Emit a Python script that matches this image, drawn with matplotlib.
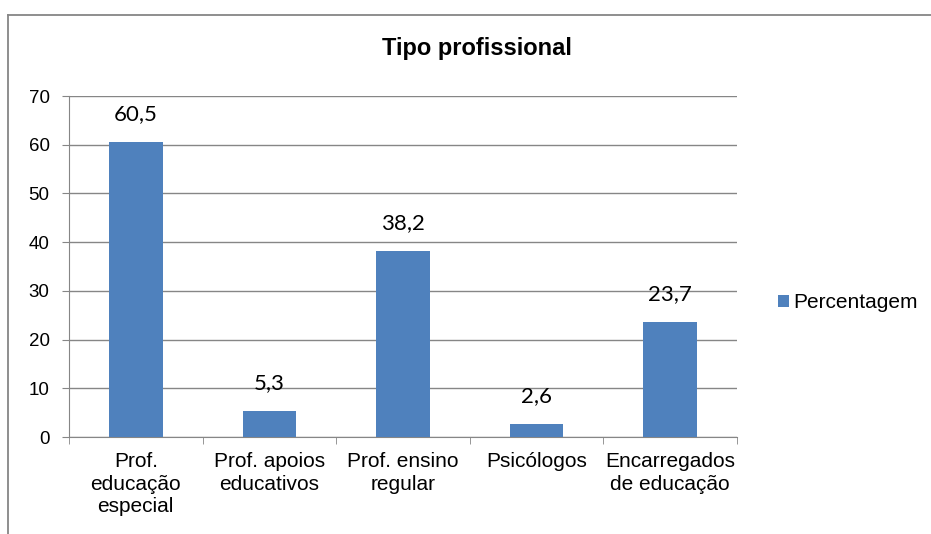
import numpy as np
import matplotlib.pyplot as plt
from matplotlib.lines import Line2D

# Dados do gráfico
categorias = ["Prof.\neducação\nespecial", "Prof. apoios\neducativos",
              "Prof. ensino\nregular", "Psicólogos", "Encarregados\nde educação"]
percentagem = [60.5, 5.3, 38.2, 2.6, 23.7]
titulo = "Tipo profissional"
legenda = "Percentagem"

cor_barra = "#4F81BD"
cor_grelha = "#868686"

plt.rcParams['font.family'] = ['Liberation Sans', 'DejaVu Sans']

fig = plt.figure(figsize=(9.31, 5.34), dpi=100)
ax = fig.add_axes([69 / 931, 1 - 437 / 534, (737 - 69) / 931, (437 - 96) / 534])

x = np.arange(len(categorias))
barras = ax.bar(x, percentagem, width=0.4, color=cor_barra, zorder=3, label=legenda)

# rótulos de dados por cima das barras
for xi, v in zip(x, percentagem):
    ax.annotate(f"{v:.1f}".replace(".", ","), (xi, v), xytext=(0, 20),
                textcoords="offset points", ha="center", va="center",
                fontsize=16, family=["Lato", "DejaVu Sans"])

ax.set_xlim(-0.5, len(categorias) - 0.5)
ax.set_ylim(0, 70)
ax.set_yticks(range(0, 71, 10))
ax.yaxis.grid(True, color=cor_grelha, linewidth=1, zorder=0)
ax.tick_params(axis="y", labelsize=13.5, length=5, color=cor_grelha, pad=9)

ax.set_xticks(x)
ax.set_xticklabels(categorias, fontsize=15, linespacing=1.22)
ax.tick_params(axis="x", which="major", length=0, pad=11)
ax.set_xticks(np.arange(-0.5, len(categorias)), minor=True)
ax.tick_params(axis="x", which="minor", length=5, color=cor_grelha)

for lado in ["top", "right"]:
    ax.spines[lado].set_visible(False)
ax.spines["left"].set_color(cor_grelha)
ax.spines["bottom"].set_color(cor_grelha)

fig.text(477 / 931, 1 - 48 / 534, titulo, ha="center", va="center",
         fontsize=17, fontweight="bold")

ax.legend(handles=[barras], loc="center left",
          bbox_to_anchor=(778 / 931, 1 - 303 / 534), bbox_transform=fig.transFigure,
          frameon=False, fontsize=15, borderpad=0, borderaxespad=0,
          handlelength=0.53, handleheight=0.53, handletextpad=0.2)

# moldura da área do gráfico
fig.add_artist(Line2D([8 / 931, 1], [1 - 14.5 / 534] * 2, color=cor_grelha, lw=1.3))
fig.add_artist(Line2D([8 / 931] * 2, [0, 1 - 14.5 / 534], color=cor_grelha, lw=1.3))

fig.savefig("out.png", dpi=100)
